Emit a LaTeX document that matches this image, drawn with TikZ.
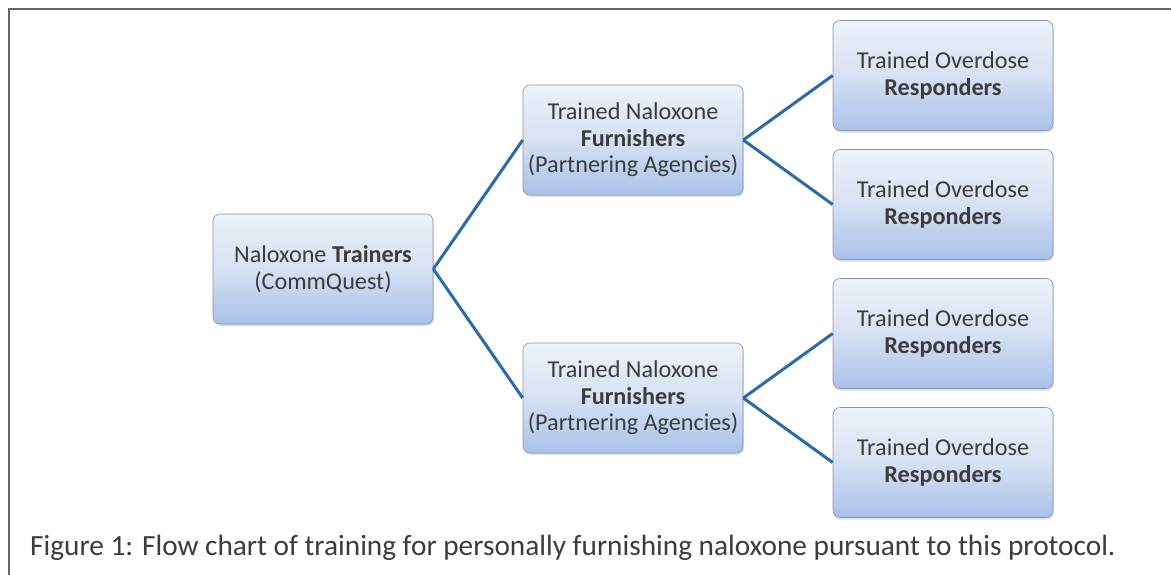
\documentclass[tikz,border=0pt]{standalone}
\usepackage{fontspec}
\setmainfont{Carlito}
\usetikzlibrary{trees, shadows, positioning}

\definecolor{boxtop}{HTML}{EEF2FA}
\definecolor{boxmid}{HTML}{D6E1F3}
\definecolor{boxbot}{HTML}{A9C1E9}
\definecolor{boxline}{HTML}{8C96A3}
\definecolor{linkblue}{HTML}{2A6BA8}
\definecolor{textgray}{HTML}{3C3C3C}

\begin{document}
\begin{tikzpicture}[x=1pt, y=-1pt,
  grow=right,
  level distance=310pt,
  level 1/.style={sibling distance=258pt},
  level 2/.style={sibling distance=129pt},
  box/.style={rectangle, rounded corners=7pt, draw=boxline, line width=0.6pt,
    top color=boxtop, bottom color=boxbot, middle color=boxmid,
    drop shadow={shadow xshift=1pt, shadow yshift=-2pt, opacity=0.25},
    minimum width=220pt, minimum height=110pt, align=center,
    text=textgray, font=\fontsize{24.2}{26.5}\selectfont},
  edge from parent/.style={draw=linkblue, line width=3pt},
  edge from parent path={(\tikzparentnode.east) -- (\tikzchildnode.west)}]

  \useasboundingbox (0,0) rectangle (1171,574);
  \clip (0,0) rectangle (1171,574);
  \fill[white] (0,0) rectangle (1171,574);
  \draw[gray!80!black, line width=1.8pt] (9,9) rectangle (1185,590);

  \node[box] (trainers) at (323,269) {Naloxone \textbf{Trainers}\\(CommQuest)}
	child {node[box] (furnA) {Trained Naloxone\\\textbf{Furnishers}\\(Partnering Agencies)}
		child{node[box] (respA) {Trained Overdose\\\textbf{Responders}}
		}
		child{node[box] (respB) {Trained Overdose\\\textbf{Responders}}
		}
	}
	child{node[box] (furnB) {Trained Naloxone\\\textbf{Furnishers}\\(Partnering Agencies)}
		child{node[box] (respC) {Trained Overdose\\\textbf{Responders}}
		}
		child{node[box] (respD) {Trained Overdose\\\textbf{Responders}}
		}
	};

  \node[anchor=west, inner sep=0pt, text=textgray, font=\fontsize{29.3}{32}\selectfont] (caption) at (30,548)
    {Figure 1: Flow chart of training for personally furnishing naloxone pursuant to this protocol.};
\end{tikzpicture}
\end{document}
